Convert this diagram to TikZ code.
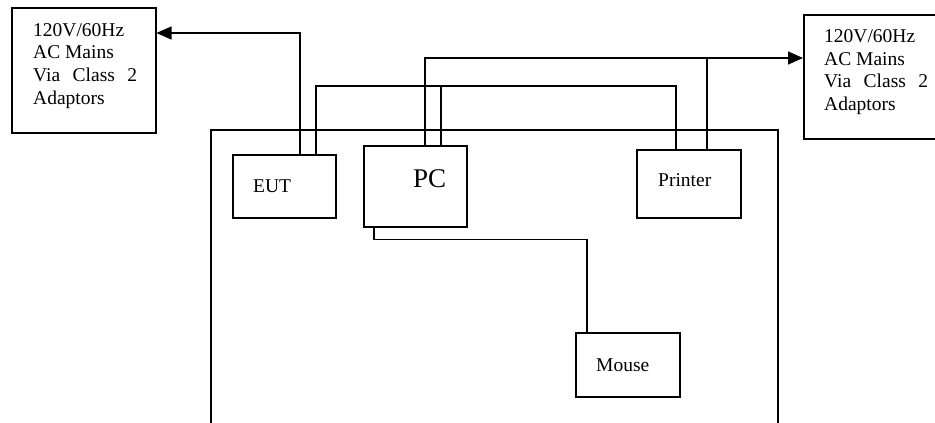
\documentclass[tikz,border=0pt]{standalone}
\usepackage{fontspec}
\setmainfont{Liberation Serif}
\usetikzlibrary{arrows.meta}

\begin{document}
\begin{tikzpicture}[x=1pt, y=-1pt,
  box/.style={draw, line width=1.5pt, rectangle, inner sep=0pt, anchor=north west},
  wire/.style={line width=1.5pt},
  tip/.style={-{Triangle[length=15pt, width=13pt]}},
  txt/.style={inner sep=0pt, anchor=base west, font=\fontsize{19.5}{22.7}\selectfont},
  bigtxt/.style={inner sep=0pt, anchor=base west, font=\fontsize{27}{30}\selectfont}]

  \useasboundingbox (0,0) rectangle (935,423);

  % test table outline (open towards the bottom)
  \draw[line width=1.5pt] (211,423) -- (211,130) -- (778,130) -- (778,423);

  % equipment boxes
  \node[box, minimum width=144pt, minimum height=125pt] (mainsL) at (11,7) {};
  \node[box, minimum width=134pt, minimum height=124pt] (mainsR) at (803,14) {};
  \node[box, minimum width=103pt, minimum height=63pt] (eut) at (232,154) {};
  \node[box, minimum width=103pt, minimum height=81pt] (pc) at (363,145) {};
  \node[box, minimum width=104pt, minimum height=68pt] (printer) at (636,149) {};
  \node[box, minimum width=104pt, minimum height=64pt] (mouse) at (575,332) {};

  % labels
  \node[txt] (mL1) at (33,36) {120V/60Hz};
  \node[txt] (mL2) at (33,58.7) {AC Mains};
  \node[txt] (mL3) at (33,81.4) {\makebox[104pt][s]{Via Class 2}};
  \node[txt] (mL4) at (33,104.1) {Adaptors};
  \node[txt] (mR1) at (824,42.5) {120V/60Hz};
  \node[txt] (mR2) at (824,65.2) {AC Mains};
  \node[txt] (mR3) at (824,87.9) {\makebox[104pt][s]{Via Class 2}};
  \node[txt] (mR4) at (824,110.6) {Adaptors};
  \node[txt] (eutlbl) at (253,192) {EUT};
  \node[bigtxt] (pclbl) at (413,187) {PC};
  \node[txt] (prnlbl) at (658,186) {Printer};
  \node[txt] (mslbl) at (596,371) {Mouse};

  % cable routing points
  \coordinate (eutPwr) at ([xshift=68pt]eut.north west);
  \coordinate (eutPrn) at ([xshift=84pt]eut.north west);
  \coordinate (pcPwr)  at ([xshift=62pt]pc.north west);
  \coordinate (pcPrn)  at ([xshift=78pt]pc.north west);
  \coordinate (pcMs)   at ([xshift=11pt]pc.south west);
  \coordinate (prnIn)  at ([xshift=40pt]printer.north west);
  \coordinate (prnPwr) at ([xshift=71pt]printer.north west);
  \coordinate (msIn)   at ([xshift=12pt]mouse.north west);
  \coordinate (busA)   at (316,86);
  \coordinate (busB)   at (425,57);

  % EUT power to left mains
  \draw[wire, tip] (eutPwr) |- ([yshift=-26pt]mainsL.north east);
  % EUT to printer
  \draw[wire] (eutPrn) |- (busA) -| (prnIn);
  % PC to printer cable joins the same run
  \draw[wire] (pcPrn) -- (pcPrn |- busA);
  % PC power to right mains
  \draw[wire, tip] (pcPwr) |- ([yshift=-44pt]mainsR.north west);
  % printer power joins the same run
  \draw[wire] (prnPwr) -- (prnPwr |- busB);
  % PC to mouse
  \draw[wire] (pcMs) -- ++(0,12) -| (msIn);
\end{tikzpicture}
\end{document}
